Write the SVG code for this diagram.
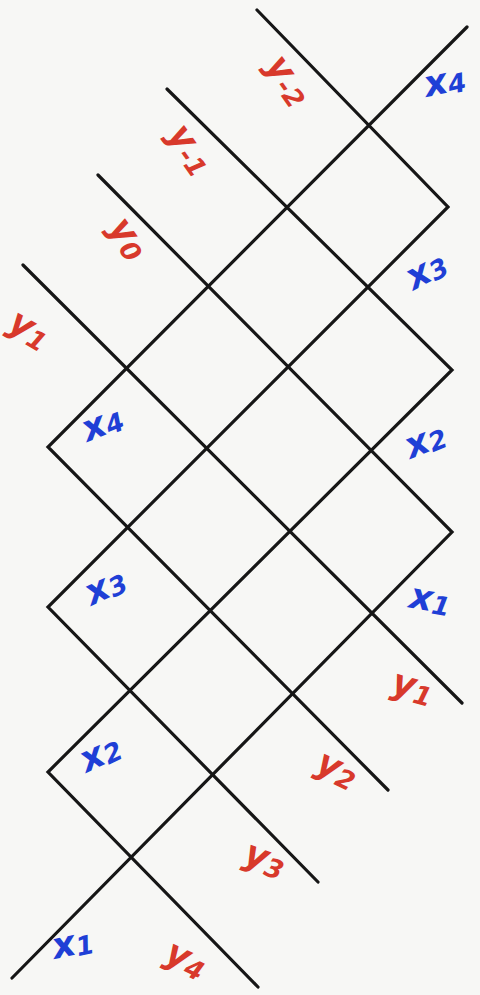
<svg xmlns="http://www.w3.org/2000/svg" width="480" height="995" viewBox="0 0 480 995">
<style>
.ln{fill:none;stroke:#161616;stroke-width:3.2;stroke-linecap:round;stroke-linejoin:miter}
.lb{font-family:"DejaVu Sans","Liberation Sans",sans-serif;font-style:oblique;font-weight:bold;font-size:36px;text-anchor:middle}
.r{fill:#d8392b}
.b{fill:#1f3fd6}
.s{font-size:26px}
</style>
<rect width="480" height="995" fill="#f7f7f5"/>
<g id="connectors">
<polyline id="w1" class="ln" points="257,10 448,207 48,607 318,882"/>
<polyline id="w2" class="ln" points="167,89 452,370 48,772 258,987"/>
<polyline id="w3" class="ln" points="98,175 452,532 12,978"/>
<polyline id="w4" class="ln" points="23,265 462,703"/>
<polyline id="w5" class="ln" points="467,27 48,447 388,790"/>
</g>
<g id="labels">
<g id="l-ym2"><text class="lb r" transform="translate(286,82) rotate(55)" y="8">y<tspan class="s" dy="4">-2</tspan></text></g>
<g id="l-ym1"><text class="lb r" transform="translate(188,151) rotate(55)" y="8">y<tspan class="s" dy="4">-1</tspan></text></g>
<g id="l-y0"><text class="lb r" transform="translate(126,240) rotate(55)" y="8">y<tspan class="s" dy="4">0</tspan></text></g>
<g id="l-y1top"><text class="lb r" transform="translate(28,332) rotate(30)" y="8">y<tspan class="s" dy="4">1</tspan></text></g>
<g id="l-x4r"><text class="lb b" transform="translate(445,83) rotate(-12)" y="10">x<tspan class="s" dy="2">4</tspan></text></g>
<g id="l-x3r"><text class="lb b" transform="translate(427,272) rotate(-28)" y="10">x<tspan class="s" dy="2">3</tspan></text></g>
<g id="l-x2r"><text class="lb b" transform="translate(426,442) rotate(-22)" y="10">x<tspan class="s" dy="2">2</tspan></text></g>
<g id="l-x1r"><text class="lb b" transform="translate(430,601) rotate(10)" y="10">x<tspan class="s" dy="2">1</tspan></text></g>
<g id="l-x4l"><text class="lb b" transform="translate(103,425) rotate(-22)" y="10">x<tspan class="s" dy="2">4</tspan></text></g>
<g id="l-x3l"><text class="lb b" transform="translate(106,588) rotate(-25)" y="10">x<tspan class="s" dy="2">3</tspan></text></g>
<g id="l-x2l"><text class="lb b" transform="translate(101,755) rotate(-25)" y="10">x<tspan class="s" dy="2">2</tspan></text></g>
<g id="l-x1l"><text class="lb b" transform="translate(73,945) rotate(-12)" y="10">x<tspan class="s" dy="2">1</tspan></text></g>
<g id="l-y1"><text class="lb r" transform="translate(412,690) rotate(15)" y="8">y<tspan class="s" dy="4">1</tspan></text></g>
<g id="l-y2"><text class="lb r" transform="translate(336,772) rotate(25)" y="8">y<tspan class="s" dy="4">2</tspan></text></g>
<g id="l-y3"><text class="lb r" transform="translate(264,862) rotate(20)" y="8">y<tspan class="s" dy="4">3</tspan></text></g>
<g id="l-y4"><text class="lb r" transform="translate(185,962) rotate(25)" y="8">y<tspan class="s" dy="4">4</tspan></text></g>
</g>
</svg>
